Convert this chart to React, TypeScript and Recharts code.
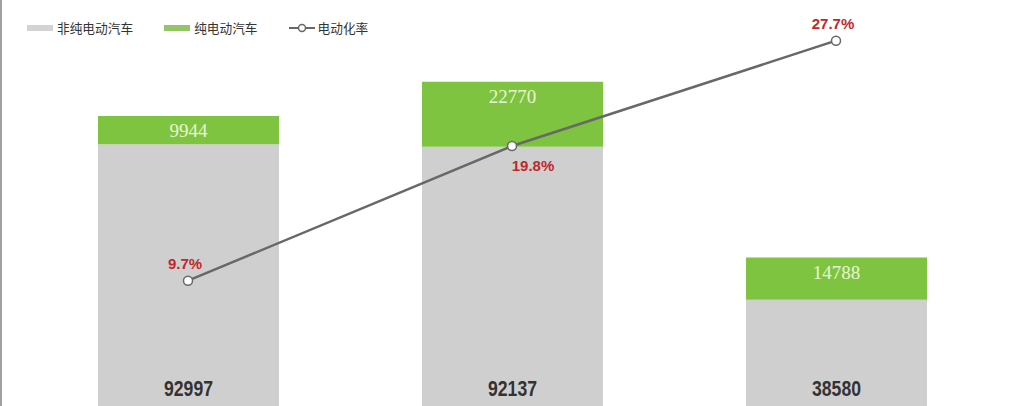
import { ComposedChart, Bar, Line, XAxis, YAxis, Legend, LabelList } from 'recharts'

const periods = ['期间一', '期间二', '期间三']
const nonPureEv = [92997, 92137, 38580]
const pureEv = [9944, 22770, 14788]
const evRate = [9.7, 19.8, 27.7]

const data = periods.map((name, i) => ({
  name,
  nonPureEv: nonPureEv[i],
  pureEv: pureEv[i],
  evRate: evRate[i],
}))

const GRAY = '#cfcfcf'
const GREEN = '#7fc441'
const LINE = '#686868'
const RED = '#c0282d'

const legendItems = [
  { label: '非纯电动汽车', kind: 'rect', color: '#d3d3d3' },
  { label: '纯电动汽车', kind: 'rect', color: '#94c564' },
  { label: '电动化率', kind: 'line', color: LINE },
]

const LegendContent = () => (
  <div style={{ display: 'flex', alignItems: 'center', fontFamily: '"Noto Sans CJK SC", sans-serif', fontSize: 12.7, color: '#333' }}>
    {legendItems.map((it) => (
      <div key={it.label} style={{ display: 'flex', alignItems: 'center', marginRight: 31 }}>
        {it.kind === 'rect' ? (
          <div style={{ width: 26, height: 6, background: it.color, marginRight: 4 }} />
        ) : (
          <svg width={26} height={10} style={{ marginRight: 3 }}>
            <line x1={0} y1={5} x2={26} y2={5} stroke={it.color} strokeWidth={2} />
            <circle cx={13} cy={5} r={3.5} fill="#fff" stroke={it.color} strokeWidth={1.5} />
          </svg>
        )}
        <span>{it.label}</span>
      </div>
    ))}
  </div>
)

const GrayLabel = (props: any) => {
  const { x, y, width, height, value } = props
  const cx = x + width / 2
  const cy = y + height - 22
  return (
    <text x={0} y={0} transform={`translate(${cx},${cy}) scale(0.8,1)`} textAnchor="middle" dominantBaseline="central"
      fill="#333" fontSize={22} fontWeight="bold" fontFamily='"Liberation Sans", Arial, sans-serif'>
      {value}
    </text>
  )
}

const GreenLabel = (props: any) => {
  const { x, y, width, value } = props
  return (
    <text x={x + width / 2} y={y + 15} textAnchor="middle" dominantBaseline="central"
      fill="#eaf6d2" fontSize={19} fontFamily='"Liberation Serif", serif'>
      {value}
    </text>
  )
}

const RateLabel = (props: any) => {
  const { x, y, value, index } = props
  const below = index === 1
  return (
    <text x={below ? x + 21 : x - 3} y={below ? y + 19 : y - 17} textAnchor="middle" dominantBaseline="central"
      fill={RED} fontSize={15} fontWeight="bold" fontFamily='"Liberation Sans", Arial, sans-serif'>
      {value}%
    </text>
  )
}

export default function App() {
  return (
    <div style={{ position: 'absolute', left: 0, top: 0, width: 1036, height: 406, overflow: 'hidden', background: '#fff', borderLeft: '2px solid #a0a0a0', boxSizing: 'border-box' }}>
      <div style={{ position: 'absolute', left: -2, top: 0 }}>
        <ComposedChart width={1036} height={430} data={data} margin={{ top: 10, right: 38, bottom: 20, left: 26 }}>
          <XAxis dataKey="name" hide />
          <YAxis yAxisId="left" hide domain={[0, 140000]} />
          <YAxis yAxisId="right" orientation="right" hide domain={[0, 30]} />
          <Legend layout="horizontal" verticalAlign="middle" align="center" content={<LegendContent />}
            wrapperStyle={{ top: 18, left: 27, width: 'auto', height: 'auto' }} />
          <Bar yAxisId="left" dataKey="nonPureEv" name="非纯电动汽车" stackId="a" fill={GRAY} barSize={181} isAnimationActive={false}>
            <LabelList dataKey="nonPureEv" content={<GrayLabel />} />
          </Bar>
          <Bar yAxisId="left" dataKey="pureEv" name="纯电动汽车" stackId="a" fill={GREEN} barSize={181} isAnimationActive={false}>
            <LabelList dataKey="pureEv" content={<GreenLabel />} />
          </Bar>
          <Line yAxisId="right" dataKey="evRate" name="电动化率" stroke={LINE} strokeWidth={2.5}
            dot={{ r: 4.5, fill: '#fff', stroke: LINE, strokeWidth: 1.5 }} isAnimationActive={false}>
            <LabelList dataKey="evRate" content={<RateLabel />} />
          </Line>
        </ComposedChart>
      </div>
    </div>
  )
}
